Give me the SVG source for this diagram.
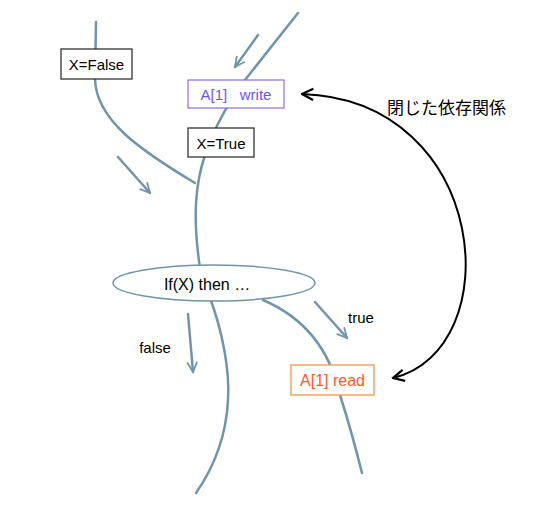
<svg xmlns="http://www.w3.org/2000/svg" width="544" height="520" viewBox="0 0 544 520">
<defs>
<style>
.thread{fill:none;stroke:#7095ab;stroke-width:2.5;stroke-linecap:round}
.flow{fill:none;stroke:#7095ab;stroke-width:2.5;stroke-linecap:round;marker-end:url(#bv)}
.t{font-family:"Liberation Sans","Noto Sans",sans-serif;font-size:15px;fill:#000;text-anchor:middle}
.box{fill:#fff;stroke:#222;stroke-width:1.2}
</style>
<marker id="bv" viewBox="0 0 10 10" refX="9" refY="5" markerWidth="5" markerHeight="5" orient="auto" markerUnits="strokeWidth">
<path d="M1,1 L9,5 L1,9" fill="none" stroke="#7095ab" stroke-width="1.4"/>
</marker>
<marker id="kv" viewBox="0 0 10 10" refX="9" refY="5" markerWidth="7" markerHeight="7" orient="auto" markerUnits="strokeWidth">
<path d="M1,1 L9,5 L1,9" fill="none" stroke="#000" stroke-width="1.6"/>
</marker>
<marker id="ks" viewBox="0 0 10 10" refX="1" refY="5" markerWidth="7" markerHeight="7" orient="auto" markerUnits="strokeWidth">
<path d="M9,1 L1,5 L9,9" fill="none" stroke="#000" stroke-width="1.6"/>
</marker>
</defs>
<g id="connectors">
<path class="thread" d="M96,22 L95,79 C96,120 140,150 195,183"/>
<path class="thread" d="M298,13 L245,80 C232,97 215,125 205,155 C196,182 192,215 200,268"/>
<path class="thread" d="M210,298 C222,330 230,370 228,400 C226,440 212,470 196,493"/>
<path class="thread" d="M263,300 C305,318 330,350 340,395 C348,420 355,445 362,473"/>
<path class="flow" d="M258,35 L235,67"/>
<path class="flow" d="M118,157 L150,193"/>
<path class="flow" d="M188,314 L193,372"/>
<path class="flow" d="M315,302 L347,338"/>
<path d="M302,94 C490,100 510,350 393,378" fill="none" stroke="#000" stroke-width="2" marker-start="url(#ks)" marker-end="url(#kv)"/>
</g>
<g id="xfalse">
<rect class="box" x="61" y="49" width="71" height="30"/>
<text class="t" x="96.5" y="69.5">X=False</text>
</g>
<g id="awrite">
<rect x="188" y="80" width="96" height="28" fill="#fff" stroke="#8a6cf2" stroke-width="1.2"/>
<text class="t" x="236" y="99.5" style="fill:#6a58f0" xml:space="preserve">A[1]   write</text>
</g>
<g id="xtrue">
<rect class="box" x="188" y="128" width="66" height="29"/>
<text class="t" x="221" y="148.5">X=True</text>
</g>
<g id="ifx">
<ellipse cx="214" cy="283" rx="101" ry="18" fill="#fff" stroke="#7095ab" stroke-width="1.5"/>
<text class="t" x="207" y="290" style="font-size:16px">If(X) then …</text>
</g>
<g id="aread">
<rect x="291" y="365" width="83" height="30" fill="#fff" stroke="#f7a15c" stroke-width="1.5"/>
<text class="t" x="332.5" y="386" style="fill:#ff5a1e;font-size:16px">A[1] read</text>
</g>
<g id="labels">
<text class="t" x="361" y="323">true</text>
<text class="t" x="155" y="353">false</text>
<text x="387" y="114" style="font-family:'Noto Sans CJK JP','Noto Sans',sans-serif;font-size:17px;fill:#000">閉じた依存関係</text>
</g>
</svg>
